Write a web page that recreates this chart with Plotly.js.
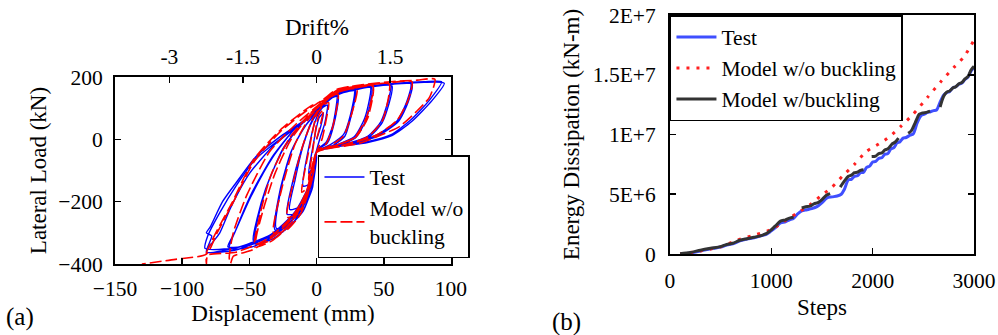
<!DOCTYPE html>
<html>
<head>
<meta charset="utf-8">
<script src="https://cdn.plot.ly/plotly-3.0.1.min.js"></script>
<style>
html,body{margin:0;padding:0;background:#fff;}
#chart{width:998px;height:335px;}
#chart text{font-family:serif !important;}
</style>
</head>
<body>
<div id="chart"></div>
<script>
// ---------- Panel (a): hysteresis, [displacement mm, lateral load kN] ----------
const testPts = [
  [0,0],[3,40],[5,85],[2,70],[0,40],[-3,-30],[-6,-110],[-3,-90],[0,-35],
  [3,10],[6,50],[8,110],[4,100],[0,70],[-5,-10],[-10,-150],[-4,-140],[-1,-80],[0,-35],
  [7,-10],[12,45],[15,140],[10,128],[3,98],[-3,60],[-10,-20],[-16,-130],[-20,-225],[-12,-215],[-5,-160],[-1,-90],[0,-35],
  [8,-12],[13,50],[16,138],[10,130],[3,100],[-4,55],[-11,-30],[-18,-140],[-22,-240],[-13,-235],[-6,-175],[-1,-95],[0,-40],
  [10,-18],[20,15],[25,75],[28,158],[20,152],[10,132],[2,95],[-8,45],[-18,-30],[-26,-150],[-30,-285],[-20,-275],[-10,-230],[-3,-150],[0,-60],[0,-38],
  [12,-20],[21,10],[26,80],[29,155],[20,150],[10,130],[2,96],[-9,40],[-19,-40],[-27,-160],[-31,-290],[-21,-280],[-11,-235],[-3,-155],[0,-40],
  [15,-18],[28,8],[36,70],[40,168],[30,163],[15,147],[5,112],[0,95],[-12,45],[-25,-30],[-37,-150],[-44,-260],[-46,-335],[-33,-320],[-18,-270],[-7,-190],[-1,-90],[0,-38],
  [16,-20],[29,5],[37,65],[41,166],[30,160],[15,145],[5,110],[0,93],[-13,40],[-26,-40],[-38,-160],[-44,-250],[-47,-325],[-34,-312],[-19,-262],[-8,-185],[-1,-92],[0,-40],
  [20,-17],[38,10],[48,58],[55,175],[40,170],[20,158],[8,126],[0,92],[-15,40],[-32,-50],[-48,-170],[-60,-290],[-65,-350],[-48,-345],[-30,-305],[-14,-240],[-4,-150],[0,-38],
  [21,-18],[39,8],[49,55],[56,172],[40,168],[20,157],[8,125],[0,90],[-16,35],[-33,-60],[-49,-185],[-61,-300],[-66,-345],[-50,-340],[-31,-300],[-15,-235],[-4,-145],[0,-40],
  [25,-15],[45,15],[60,60],[67,120],[70,180],[55,178],[35,168],[15,150],[5,115],[-5,73],[-25,15],[-45,-55],[-60,-140],[-70,-200],[-79,-280],[-82,-300],[-78,-310],[-82,-362],[-57,-344],[-32,-301],[-12,-216],[-2,-88],[0,-38],
  [26,-16],[46,12],[61,58],[68,118],[71,178],[55,176],[35,166],[15,148],[5,112],[-5,70],[-25,8],[-45,-62],[-60,-150],[-72,-235],[-81,-310],[-83,-350],[-60,-348],[-35,-308],[-15,-228],[-3,-120],[0,-40],
  [12,-24],[37,-8],[55,14],[70,62],[84,126],[93,185],[80,185],[60,180],[40,171],[20,159],[8,128],[0,94],[-12,50],[-32,-20],[-50,-110],[-64,-220],[-72,-300],[-80,-345],[-82,-362],[-61,-356],[-36,-314],[-16,-232],[-4,-132],[0,-40],
  [12,-26],[38,-10],[56,12],[71,58],[86,125],[95,180],[80,183],[60,178],[40,170],[20,158],[8,127],[0,92],[-12,50],[-26,5]
];
const modelPts = [
  [0,0],[3,50],[5,95],[2,80],[0,50],[-3,-40],[-6,-130],[-3,-100],[0,-40],
  [4,0],[7,60],[9,118],[5,110],[0,80],[-5,-20],[-11,-170],[-6,-150],[-2,-85],[0,-40],
  [7,-15],[12,40],[16,145],[10,135],[3,105],[-3,65],[-11,-30],[-18,-150],[-22,-250],[-14,-240],[-7,-180],[-2,-100],[0,-42],
  [10,-20],[20,10],[26,80],[30,162],[20,157],[10,140],[3,112],[-6,65],[-16,-15],[-26,-160],[-32,-300],[-22,-290],[-12,-240],[-4,-140],[0,-42],
  [14,-20],[28,5],[37,70],[42,172],[30,168],[15,153],[5,120],[-5,82],[-20,5],[-34,-115],[-42,-240],[-46,-345],[-33,-325],[-19,-265],[-7,-160],[0,-42],
  [15,-18],[29,6],[38,68],[42,170],[30,166],[15,150],[5,118],[-5,78],[-19,0],[-31,-110],[-40,-230],[-45,-335],[-31,-318],[-17,-258],[-6,-150],[0,-42],
  [20,-18],[38,8],[49,60],[54,178],[40,175],[20,165],[8,135],[0,105],[-15,50],[-35,-40],[-52,-180],[-62,-300],[-65,-380],[-64,-398],[-62,-375],[-48,-355],[-30,-305],[-13,-225],[-3,-125],[0,-42],
  [25,-15],[45,15],[60,62],[68,125],[71,185],[55,182],[35,173],[15,157],[5,125],[-5,105],[-27,30],[-47,-66],[-63,-204],[-75,-300],[-82,-365],[-82,-400],[-81,-372],[-60,-362],[-36,-318],[-16,-235],[-4,-135],[0,-42],
  [30,-15],[47,12],[62,42],[74,88],[84,135],[88,193],[75,190],[55,185],[35,176],[15,160],[5,128],[-5,100],[-27,25],[-47,-75],[-63,-210],[-74,-300],[-82,-368],[-105,-385],[-130,-400]
];
const testDisp = testPts.map(p => p[0]), testLoad = testPts.map(p => p[1]);
const modelDisp = modelPts.map(p => p[0]), modelLoad = modelPts.map(p => p[1]);

// ---------- Panel (b): energy dissipation (values in units of 1E+6 kN-m) ----------
const testSteps = [100,200,300,380,430,500,560,620,690,760,830,890,950,990,1040,1090,1140,1180,1220,1260,1300,1350,1400,1450,1500,1550,1600,1650,1690,1720,1760,1790,1820,1850,1880,1910,1940,1970,2000,2030,2060,2090,2120,2150,2180,2210,2240,2270,2300,2330,2370,2400,2440,2480,2510,2540,2570,2600,2630,2660,2700,2730,2760,2790,2820,2850,2880,2910,2940,2970,3000];
const testEnergy = [0.00,0.08,0.25,0.40,0.48,0.58,0.75,0.85,1.10,1.25,1.35,1.50,1.65,1.87,2.20,2.60,2.70,2.85,3.00,3.35,3.60,3.70,3.80,3.96,4.30,4.70,4.78,4.85,5.00,5.40,6.20,6.25,6.50,6.55,6.80,6.85,7.25,7.35,7.70,7.75,8.00,8.05,8.35,8.40,8.80,8.90,9.30,9.40,9.70,9.75,9.95,10.05,11.0,11.6,11.7,11.85,11.9,12.0,12.05,12.6,13.3,13.5,13.6,13.9,14.0,14.2,14.3,14.6,14.8,15.3,15.6];
const noBuckSteps = [100,300,500,660,800,1000,1120,1250,1380,1480,1600,1700,1820,1940,2060,2165,2280,2400,2540,2680,2800,2900,3000];
const noBuckEnergy = [0.0,0.25,0.6,1.15,1.5,2.05,2.7,3.4,4.1,4.8,5.6,6.5,7.5,8.6,9.2,9.8,10.7,11.7,13.1,14.5,15.6,16.5,17.9];
const buckSteps = [100,200,300,400,500,560,620,690,760,830,890,950,990,1040,1090,1140,1180,1220,null,
  1300,1340,1380,1420,1460,1500,1540,1580,null,
  1680,1720,1760,1790,1820,1850,1880,1910,null,
  1990,2030,2060,2090,2120,2150,2190,2220,2255,null,
  2350,2380,2420,2460,2490,2530,2566,null,
  2665,2700,2730,2760,2790,2820,2850,2880,2910,2940,2970,3000];
const buckEnergy = [0.02,0.12,0.32,0.48,0.62,0.80,0.90,1.15,1.28,1.40,1.52,1.70,1.95,2.35,2.75,2.85,3.00,3.10,null,
  3.85,3.95,4.00,4.20,4.30,4.55,4.90,5.05,null,
  5.60,6.10,6.50,6.60,6.80,6.85,7.00,7.05,null,
  8.15,8.20,8.40,8.45,8.70,8.80,9.20,9.35,9.70,null,
  10.1,10.3,11.0,11.7,11.8,11.85,11.95,null,
  12.3,13.2,13.55,13.65,13.9,14.0,14.25,14.35,14.65,14.85,15.4,15.7];

const dispTicks = [-150,-100,-50,0,50,100];
const driftTicks = [-3,-1.5,0,1.5];
const driftTickText = ['-3','-1.5','0','1.5'];
const loadTicks = [-400,-200,0,200];
const stepTicks = [0,1000,2000,3000];
const energyTicks = [0,5,10,15,20];
const energyTickText = ['0','5E+6','1E+7','1.5E+7','2E+7'];
const mmPerDrift = 36.5;

const FONT = 'serif';

const traces = [
  {x: testDisp, y: testLoad, type:'scatter', mode:'lines', name:'Test', xaxis:'x', yaxis:'y',
   line:{color:'#0000ff', width:1.4, shape:'spline', smoothing:0.6}, legend:'legend', legendrank:1},
  {x: modelDisp, y: modelLoad, type:'scatter', mode:'lines', name:'Model w/o<br>buckling', xaxis:'x', yaxis:'y',
   line:{color:'#ff0000', width:1.6, dash:'12px,4px', shape:'spline', smoothing:0.6}, legend:'legend', legendrank:2},
  {x: [], y: [], type:'scatter', mode:'lines', xaxis:'x2', yaxis:'y', showlegend:false, hoverinfo:'skip'},
  {x: testSteps, y: testEnergy, type:'scatter', mode:'lines', name:'Test', xaxis:'x3', yaxis:'y3',
   line:{color:'#3f4fff', width:3, shape:'spline', smoothing:0.8}, legend:'legend2', legendrank:1},
  {x: noBuckSteps, y: noBuckEnergy, type:'scatter', mode:'lines', name:'Model w/o buckling', xaxis:'x3', yaxis:'y3',
   line:{color:'#ff2020', width:3, dash:'3px,7px', shape:'spline', smoothing:0.6}, legend:'legend2', legendrank:2},
  {x: buckSteps, y: buckEnergy, type:'scatter', mode:'lines', name:'Model w/buckling', xaxis:'x3', yaxis:'y3', connectgaps:false,
   line:{color:'#333333', width:3, shape:'spline', smoothing:0.8}, legend:'legend2', legendrank:3}
];

const tickFont = {family:FONT, size:21.5, color:'#000'};
const titleFont = {family:FONT, size:23, color:'#000'};
const axisCommon = {showgrid:false, zeroline:false, showline:true, linecolor:'#000', linewidth:2,
  ticks:'inside', ticklen:6, tickwidth:1.5, tickcolor:'#000', tickfont:tickFont};

const layout = {
  width:998, height:335,
  margin:{l:0, r:0, t:0, b:0},
  paper_bgcolor:'#fff', plot_bgcolor:'#fff',
  font:{family:FONT, size:21.5, color:'#000'},
  showlegend:true,
  xaxis: Object.assign({}, axisCommon, {domain:[0.1152,0.4519], anchor:'y', range:[-150,100], tickvals:dispTicks,
    mirror:true, ticklabelstandoff:4,
    title:{text:'Displacement (mm)', font:titleFont, standoff:2}}),
  xaxis2: Object.assign({}, axisCommon, {overlaying:'x', side:'top', anchor:'y', showline:false,
    range:[-150/mmPerDrift, 100/mmPerDrift], tickvals:driftTicks, ticktext:driftTickText, ticklabelstandoff:8}),
  yaxis: Object.assign({}, axisCommon, {domain:[0.2119,0.7701], anchor:'x', range:[-400,200], tickvals:loadTicks,
    mirror:'ticks', ticklabelstandoff:6,
    title:{text:'Lateral Load (kN)', font:titleFont, standoff:5}}),
  xaxis3: Object.assign({}, axisCommon, {domain:[0.6713,0.9760], anchor:'y3', range:[0,3000], tickvals:stepTicks,
    mirror:true, ticklabelstandoff:6,
    title:{text:'Steps', font:titleFont, standoff:7}}),
  yaxis3: Object.assign({}, axisCommon, {domain:[0.2418,0.9552], anchor:'x3', range:[0,20], tickvals:energyTicks,
    ticktext:energyTickText, mirror:'ticks', ticklabelstandoff:8,
    title:{text:'Energy Dissipation (kN-m)', font:titleFont, standoff:7}}),
  legend:{x:0.3186, y:0.5373, xanchor:'left', yanchor:'top', bgcolor:'#fff', bordercolor:'#000', borderwidth:1.5,
    font:tickFont, itemwidth:40, tracegroupgap:0},
  legend2:{x:0.6713, y:0.9552, xanchor:'left', yanchor:'top', bgcolor:'#fff', bordercolor:'#000', borderwidth:1.5,
    font:tickFont, itemwidth:40, tracegroupgap:0},
  annotations:[
    {text:'Drift%', xref:'paper', yref:'paper', x:0.3173, y:0.918, xanchor:'center', yanchor:'middle', showarrow:false,
     font:titleFont},
    {text:'(a)', xref:'paper', yref:'paper', x:0.004, y:0.054, xanchor:'left', yanchor:'middle', showarrow:false,
     font:{family:FONT, size:25, color:'#000'}},
    {text:'(b)', xref:'paper', yref:'paper', x:0.551, y:0.039, xanchor:'left', yanchor:'middle', showarrow:false,
     font:{family:FONT, size:25, color:'#000'}}
  ]
};

Plotly.newPlot('chart', traces, layout, {staticPlot:true, displayModeBar:false});
</script>
</body>
</html>
